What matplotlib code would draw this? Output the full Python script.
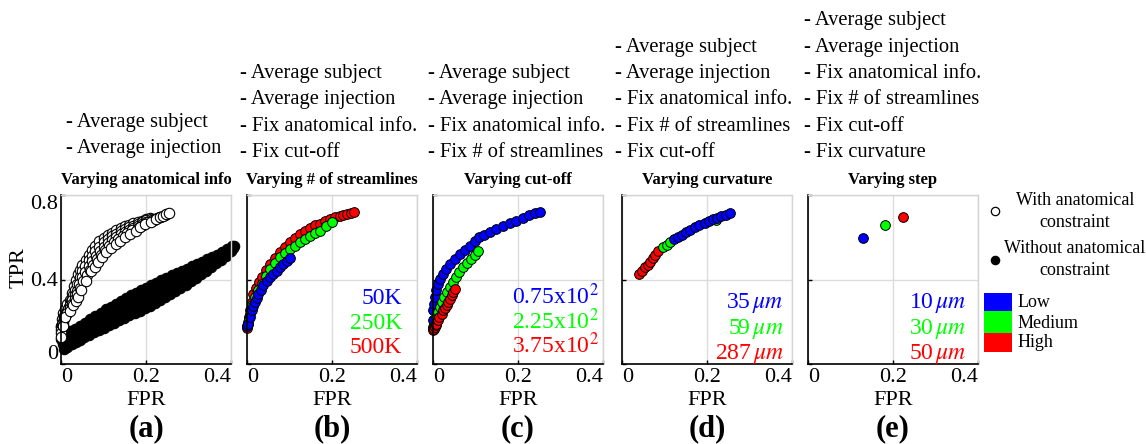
import matplotlib
matplotlib.use('Agg')
import matplotlib.pyplot as plt
from matplotlib.lines import Line2D
from matplotlib.patches import Rectangle

plt.rcParams['font.family'] = ['Liberation Serif', 'DejaVu Serif']
plt.rcParams['mathtext.fontset'] = 'stix'

# ------------------------------------------------------------------ data
# (a) without anatomical constraint (filled black) : three traces forming the band
a_blk_up_fpr = [0.000, 0.005, 0.012, 0.022, 0.033, 0.045, 0.057, 0.069, 0.081, 0.093, 0.105, 0.117,
                0.129, 0.141, 0.153, 0.165, 0.177, 0.189, 0.200, 0.212, 0.224, 0.236, 0.248, 0.260,
                0.272, 0.284, 0.296, 0.308, 0.320, 0.332, 0.343, 0.355, 0.367, 0.379, 0.391, 0.403]
a_blk_up_tpr = [0.118, 0.135, 0.148, 0.158, 0.168, 0.182, 0.196, 0.211, 0.226, 0.242, 0.258, 0.272,
                0.286, 0.300, 0.314, 0.327, 0.338, 0.350, 0.361, 0.373, 0.385, 0.397, 0.409, 0.420,
                0.431, 0.441, 0.451, 0.462, 0.473, 0.484, 0.495, 0.506, 0.518, 0.530, 0.543, 0.557]
a_blk_mid_fpr = [0.004, 0.012, 0.022, 0.033, 0.045, 0.057, 0.069, 0.081, 0.093, 0.105, 0.117, 0.129,
                 0.141, 0.153, 0.165, 0.177, 0.189, 0.201, 0.213, 0.225, 0.237, 0.249, 0.261, 0.273,
                 0.285, 0.297, 0.309, 0.321, 0.333, 0.345, 0.357, 0.369, 0.381, 0.393, 0.405]
a_blk_mid_tpr = [0.095, 0.112, 0.124, 0.136, 0.149, 0.162, 0.175, 0.188, 0.201, 0.215, 0.228, 0.241,
                 0.254, 0.267, 0.279, 0.291, 0.302, 0.314, 0.326, 0.339, 0.352, 0.365, 0.378, 0.390,
                 0.402, 0.415, 0.428, 0.441, 0.455, 0.469, 0.483, 0.497, 0.512, 0.528, 0.548]
a_blk_lo_fpr = [0.008, 0.015, 0.025, 0.035, 0.045, 0.055, 0.065, 0.077, 0.089, 0.101, 0.113, 0.125,
                0.137, 0.149, 0.161, 0.173, 0.185, 0.197, 0.209, 0.221, 0.233, 0.245, 0.257, 0.269,
                0.281, 0.293, 0.305, 0.317, 0.329, 0.341, 0.353, 0.365, 0.377, 0.389, 0.400, 0.406]
a_blk_lo_tpr = [0.070, 0.082, 0.093, 0.104, 0.115, 0.127, 0.139, 0.150, 0.161, 0.172, 0.184, 0.196,
                0.208, 0.220, 0.231, 0.242, 0.253, 0.264, 0.276, 0.289, 0.302, 0.316, 0.331, 0.345,
                0.360, 0.375, 0.391, 0.407, 0.424, 0.441, 0.458, 0.476, 0.494, 0.513, 0.533, 0.560]

# (a) with anatomical constraint (open circles) : five traces, upper-left (t4) to lower-right (t0)
a_open_t4_fpr = [0.000, 0.002, 0.005, 0.010, 0.015, 0.020, 0.025, 0.030, 0.035, 0.040, 0.045, 0.050,
                 0.058, 0.065, 0.073, 0.080, 0.090, 0.100, 0.110, 0.120, 0.130, 0.140, 0.150, 0.160,
                 0.170, 0.180, 0.190, 0.200, 0.210]
a_open_t4_tpr = [0.180, 0.215, 0.240, 0.262, 0.282, 0.305, 0.338, 0.370, 0.398, 0.425, 0.447, 0.468,
                 0.492, 0.515, 0.538, 0.560, 0.580, 0.598, 0.611, 0.622, 0.633, 0.643, 0.652, 0.660,
                 0.666, 0.672, 0.679, 0.685, 0.691]
a_open_t3_fpr = [0.001, 0.004, 0.008, 0.013, 0.018, 0.023, 0.028, 0.033, 0.038, 0.044, 0.050, 0.057,
                 0.065, 0.073, 0.081, 0.090, 0.100, 0.110, 0.120, 0.130, 0.140, 0.150, 0.160, 0.170,
                 0.180, 0.190, 0.200, 0.212]
a_open_t3_tpr = [0.175, 0.200, 0.228, 0.252, 0.272, 0.298, 0.328, 0.352, 0.380, 0.410, 0.440, 0.463,
                 0.490, 0.513, 0.537, 0.556, 0.576, 0.591, 0.605, 0.617, 0.628, 0.638, 0.647, 0.655,
                 0.663, 0.671, 0.680, 0.688]
a_open_t2_fpr = [0.000, 0.003, 0.007, 0.012, 0.017, 0.022, 0.027, 0.032, 0.037, 0.043, 0.050, 0.057,
                 0.065, 0.073, 0.082, 0.091, 0.100, 0.110, 0.120, 0.130, 0.140, 0.150, 0.160, 0.170,
                 0.180, 0.190, 0.200, 0.213, 0.225]
a_open_t2_tpr = [0.160, 0.190, 0.220, 0.240, 0.258, 0.280, 0.302, 0.325, 0.347, 0.380, 0.412, 0.437,
                 0.465, 0.489, 0.513, 0.534, 0.554, 0.572, 0.589, 0.602, 0.614, 0.625, 0.635, 0.645,
                 0.654, 0.664, 0.674, 0.684, 0.693]
a_open_t1_fpr = [0.000, 0.004, 0.009, 0.014, 0.020, 0.026, 0.032, 0.038, 0.045, 0.052, 0.060, 0.068,
                 0.076, 0.085, 0.094, 0.104, 0.114, 0.124, 0.134, 0.145, 0.156, 0.168, 0.180, 0.192,
                 0.205, 0.218, 0.232, 0.245]
a_open_t1_tpr = [0.145, 0.185, 0.225, 0.240, 0.264, 0.285, 0.310, 0.333, 0.360, 0.392, 0.420, 0.446,
                 0.470, 0.495, 0.515, 0.540, 0.558, 0.576, 0.592, 0.606, 0.618, 0.632, 0.645, 0.660,
                 0.672, 0.684, 0.696, 0.707]
a_open_t0_fpr = [0.000, 0.004, 0.0095, 0.020, 0.029, 0.035, 0.041, 0.048, 0.059, 0.071, 0.079, 0.087,
                 0.096, 0.106, 0.117, 0.129, 0.139, 0.150, 0.163, 0.176, 0.187, 0.198, 0.211, 0.224,
                 0.232, 0.240, 0.248, 0.255]
a_open_t0_tpr = [0.130, 0.180, 0.223, 0.252, 0.278, 0.297, 0.317, 0.351, 0.395, 0.438, 0.460, 0.481,
                 0.505, 0.528, 0.549, 0.568, 0.584, 0.599, 0.615, 0.631, 0.647, 0.662, 0.674, 0.686,
                 0.694, 0.701, 0.709, 0.717]

# (b) varying number of streamlines
b_high_fpr = [0.000, 0.003, 0.005, 0.007, 0.011, 0.015, 0.021, 0.028, 0.035, 0.044, 0.054, 0.066,
              0.078, 0.090, 0.101, 0.113, 0.125, 0.137, 0.148, 0.160, 0.172, 0.184, 0.195, 0.207,
              0.219, 0.227, 0.235, 0.244, 0.252]
b_high_tpr = [0.172, 0.191, 0.222, 0.254, 0.295, 0.333, 0.362, 0.388, 0.411, 0.443, 0.474, 0.502,
              0.528, 0.553, 0.576, 0.596, 0.615, 0.631, 0.646, 0.656, 0.665, 0.676, 0.686, 0.694,
              0.701, 0.707, 0.712, 0.717, 0.721]
b_med_fpr = [0.000, 0.003, 0.005, 0.007, 0.012, 0.019, 0.027, 0.035, 0.044, 0.054, 0.066, 0.078,
             0.090, 0.101, 0.113, 0.125, 0.137, 0.148, 0.160, 0.172, 0.186, 0.199]
b_med_tpr = [0.180, 0.199, 0.218, 0.239, 0.278, 0.317, 0.349, 0.380, 0.415, 0.450, 0.478, 0.505,
             0.525, 0.544, 0.560, 0.576, 0.592, 0.607, 0.619, 0.631, 0.651, 0.670]
b_low_fpr = [0.000, 0.003, 0.007, 0.011, 0.015, 0.019, 0.023, 0.027, 0.032, 0.038, 0.046, 0.054,
             0.062, 0.070, 0.078, 0.085, 0.093, 0.100]
b_low_tpr = [0.178, 0.191, 0.223, 0.254, 0.274, 0.293, 0.313, 0.333, 0.352, 0.372, 0.392, 0.411,
             0.427, 0.442, 0.458, 0.474, 0.488, 0.502]

# (c) varying cut-off
c_low_fpr = [0.000, 0.000, 0.000, 0.002, 0.004, 0.008, 0.012, 0.017, 0.023, 0.031, 0.039, 0.051,
             0.063, 0.075, 0.086, 0.098, 0.109, 0.121, 0.133, 0.148, 0.164, 0.180, 0.195, 0.211,
             0.226, 0.239, 0.252]
c_low_tpr = [0.175, 0.210, 0.254, 0.285, 0.317, 0.350, 0.380, 0.404, 0.427, 0.450, 0.474, 0.498,
             0.521, 0.541, 0.560, 0.580, 0.599, 0.611, 0.623, 0.639, 0.654, 0.666, 0.678, 0.692,
             0.706, 0.714, 0.721]
c_med_fpr = [0.000, 0.004, 0.008, 0.012, 0.016, 0.021, 0.027, 0.033, 0.039, 0.047, 0.055, 0.062,
             0.070, 0.080, 0.090, 0.098, 0.105]
c_med_tpr = [0.172, 0.191, 0.223, 0.246, 0.270, 0.294, 0.317, 0.341, 0.364, 0.388, 0.411, 0.435,
             0.458, 0.478, 0.497, 0.517, 0.537]
c_high_fpr = [0.000, 0.002, 0.004, 0.006, 0.008, 0.012, 0.015, 0.020, 0.024, 0.028, 0.032, 0.036,
              0.040, 0.044, 0.048, 0.051]
c_high_tpr = [0.160, 0.168, 0.176, 0.184, 0.191, 0.207, 0.223, 0.239, 0.254, 0.266, 0.278, 0.294,
              0.310, 0.325, 0.341, 0.356]

# (d) varying curvature
d_low_fpr = [0.123, 0.132, 0.140, 0.150, 0.161, 0.171, 0.182, 0.195, 0.205, 0.215, 0.224, 0.234, 0.244, 0.254]
d_low_tpr = [0.593, 0.603, 0.613, 0.623, 0.634, 0.647, 0.659, 0.667, 0.677, 0.687, 0.693, 0.700, 0.706, 0.713]
d_med_fpr = [0.097, 0.105, 0.113, 0.221]
d_med_tpr = [0.552, 0.565, 0.577, 0.680]
d_high_fpr = [0.040, 0.047, 0.054, 0.060, 0.066, 0.072, 0.078, 0.085]
d_high_tpr = [0.424, 0.441, 0.457, 0.470, 0.484, 0.500, 0.516, 0.533]

# (e) varying step
e_low_fpr, e_low_tpr = [0.129], [0.597]
e_med_fpr, e_med_tpr = [0.180], [0.656]
e_high_fpr, e_high_tpr = [0.223], [0.695]

titles = ['Varying anatomical info', 'Varying # of streamlines', 'Varying cut-off',
          'Varying curvature', 'Varying step']
panel_letters = ['(a)', '(b)', '(c)', '(d)', '(e)']
headers = [
    ['- Average subject', '- Average injection'],
    ['- Average subject', '- Average injection', '- Fix anatomical info.', '- Fix cut-off'],
    ['- Average subject', '- Average injection', '- Fix anatomical info.', '- Fix # of streamlines'],
    ['- Average subject', '- Average injection', '- Fix anatomical info.', '- Fix # of streamlines',
     '- Fix cut-off'],
    ['- Average subject', '- Average injection', '- Fix anatomical info.', '- Fix # of streamlines',
     '- Fix cut-off', '- Fix curvature'],
]
param_labels = [
    None,
    ['50K', '250K', '500K'],
    [r'0.75x10$^{2}$', r'2.25x10$^{2}$', r'3.75x10$^{2}$'],
    [r'35$\,\mu m$', r'59$\,\mu m$', r'287$\,\mu m$'],
    [r'10$\,\mu m$', r'30$\,\mu m$', r'50$\,\mu m$'],
]
x_ticks = [0, 0.2, 0.4]
x_ticklabels = ['0', '0.2', '0.4']
y_ticks = [0, 0.4, 0.8]
y_ticklabels = ['0', '0.4', '0.8']
level_names = ['Low', 'Medium', 'High']
legend_labels = [('With anatomical', 'constraint'), ('Without anatomical', 'constraint')]

BLUE, GREEN, RED = '#0000ff', '#00ff00', '#ff0000'
level_colors = [BLUE, GREEN, RED]

# ------------------------------------------------------------------ layout
W, H = 1146, 444
fig = plt.figure(figsize=(W / 100, H / 100), dpi=100)

def fx(x):
    return x / W

def fy(y):
    return 1 - y / H

ax_lefts = [61, 247, 433, 622, 808]
ax_w, ax_top, ax_bot = 170, 195, 364
axes = [fig.add_axes([fx(l), fy(ax_bot), ax_w / W, (ax_bot - ax_top) / H]) for l in ax_lefts]

for i, ax in enumerate(axes):
    ax.set_xlim(0, 0.4)
    ax.set_ylim(0, 0.8)
    ax.set_xticks(x_ticks)
    ax.set_xticklabels(x_ticklabels)
    ax.set_yticks(y_ticks)
    ax.set_yticklabels(y_ticklabels if i == 0 else [])
    ax.grid(True, color='#dcdcdc', lw=1.0)
    ax.set_axisbelow(True)
    for s in ('top', 'right'):
        ax.spines[s].set_color('#d4d4d4')
        ax.spines[s].set_linewidth(1.0)
    for s in ('left', 'bottom'):
        ax.spines[s].set_color('black')
        ax.spines[s].set_linewidth(1.2)
    ax.tick_params(direction='in', length=3, width=1, labelsize=16, pad=2,
                   top=False, right=False)
    ax.tick_params(axis='x', pad=3)
    xl = ax.get_xticklabels()
    xl[0].set_horizontalalignment('left')
    xl[-1].set_horizontalalignment('right')
    if i == 0:
        yl = ax.get_yticklabels()
        yl[0].set_verticalalignment('bottom')
        yl[-1].set_verticalalignment('top')
    ax.set_title(titles[i], fontsize=12, fontweight='bold', pad=8)
    ax.set_xlabel('FPR', fontsize=16)
    ax.xaxis.set_label_coords(0.5, (ax_bot - 405) / (ax_bot - ax_top))
    ax.xaxis.label.set_verticalalignment('baseline')
    fig.text(fx(ax_lefts[i] + ax_w / 2), fy(436), panel_letters[i], fontsize=22,
             fontweight='bold', ha='center', va='baseline')

fig.text(fx(19), fy(268), 'TPR', fontsize=16, rotation=90, ha='center', va='center')

# header lines
header_left = [66, 240, 428, 615, 804]
for i, lines in enumerate(headers):
    n = len(lines)
    last = 153 if i == 0 else 157
    for k, line in enumerate(lines):
        yb = last - 26.3 * (n - 1 - k)
        fig.text(fx(header_left[i]), fy(yb), line, fontsize=14.8, ha='left', va='baseline')

# ------------------------------------------------------------------ marks
mk = dict(ls='none', marker='o', mec='black', clip_on=False)
ax = axes[0]
for xs, ys in [(a_blk_up_fpr, a_blk_up_tpr), (a_blk_mid_fpr, a_blk_mid_tpr),
               (a_blk_lo_fpr, a_blk_lo_tpr)]:
    ax.plot(xs, ys, mfc='black', ms=7.5, mew=0.8, **mk)
for xs, ys in [(a_open_t4_fpr, a_open_t4_tpr), (a_open_t3_fpr, a_open_t3_tpr),
               (a_open_t2_fpr, a_open_t2_tpr), (a_open_t1_fpr, a_open_t1_tpr),
               (a_open_t0_fpr, a_open_t0_tpr)]:
    ax.plot(xs, ys, mfc='white', ms=7.5, mew=0.8, **mk)

axes[1].plot(b_high_fpr, b_high_tpr, mfc=RED, ms=7, mew=0.7, **mk)
axes[1].plot(b_med_fpr, b_med_tpr, mfc=GREEN, ms=7, mew=0.7, **mk)
axes[1].plot(b_low_fpr, b_low_tpr, mfc=BLUE, ms=7, mew=0.7, **mk)

axes[2].plot(c_low_fpr, c_low_tpr, mfc=BLUE, ms=7, mew=0.7, **mk)
axes[2].plot(c_med_fpr, c_med_tpr, mfc=GREEN, ms=7, mew=0.7, **mk)
axes[2].plot(c_high_fpr, c_high_tpr, mfc=RED, ms=7, mew=0.7, **mk)

axes[3].plot(d_high_fpr, d_high_tpr, mfc=RED, ms=7, mew=0.7, **mk)
axes[3].plot(d_med_fpr, d_med_tpr, mfc=GREEN, ms=7, mew=0.7, **mk)
axes[3].plot(d_low_fpr, d_low_tpr, mfc=BLUE, ms=7, mew=0.7, **mk)

axes[4].plot(e_low_fpr, e_low_tpr, mfc=BLUE, ms=7, mew=0.7, **mk)
axes[4].plot(e_med_fpr, e_med_tpr, mfc=GREEN, ms=7, mew=0.7, **mk)
axes[4].plot(e_high_fpr, e_high_tpr, mfc=RED, ms=7, mew=0.7, **mk)

# parameter annotations inside panels
ann_right = [None, 0.912, 0.977, 0.953, 0.935]
ann_base = [None,
            [304.5, 329.3, 353.3],
            [304.5, 329.3, 353.3],
            [308.0, 333.6, 359.5],
            [308.0, 333.6, 359.5]]
for i in range(1, 5):
    for k, lab in enumerate(param_labels[i]):
        axes[i].text(ann_right[i], (ax_bot - ann_base[i][k]) / (ax_bot - ax_top), lab,
                     transform=axes[i].transAxes, ha='right', va='baseline',
                     fontsize=17, color=level_colors[k])

# ------------------------------------------------------------------ legend (right side)
lg = fig.add_axes([0, 0, 1, 1], zorder=5)
lg.set_xlim(0, W)
lg.set_ylim(H, 0)
lg.axis('off')
lg.add_line(Line2D([995], [211], ls='none', marker='o', mfc='white', mec='black', ms=6, mew=0.9))
lg.add_line(Line2D([995], [260], ls='none', marker='o', mfc='black', mec='black', ms=6, mew=0.9))
for (l1, l2), yb in zip(legend_labels, [205, 253.3]):
    lg.text(1075, yb, l1, fontsize=13, ha='center', va='baseline')
    lg.text(1075, yb + 22, l2, fontsize=13, ha='center', va='baseline')
patch_edges = [293.3, 311.0, 333.3, 351.7]
text_base = [306.7, 328.3, 346.7]
for k, name in enumerate(level_names):
    lg.add_patch(Rectangle((984, patch_edges[k]), 27.7, patch_edges[k + 1] - patch_edges[k],
                           facecolor=level_colors[k], edgecolor='none'))
    lg.text(1018, text_base[k], name, fontsize=13, ha='left', va='baseline')

fig.savefig('out.png', dpi=100)
